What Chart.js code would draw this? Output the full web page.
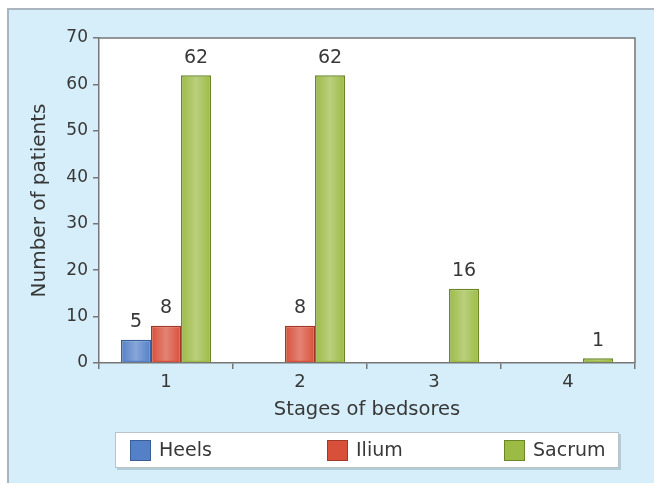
<!DOCTYPE html>
<html>
<head>
<meta charset="utf-8">
<script src="https://cdn.jsdelivr.net/npm/chart.js@4/dist/chart.umd.min.js"></script>
<style>
  html, body { margin: 0; padding: 0; background: #ffffff; }
  #wrap { width: 654px; height: 486px; }
</style>
</head>
<body>
<div id="wrap"><canvas id="c" width="654" height="486"></canvas></div>
<script>
// Bedsore counts by stage and site
const stages = ['1', '2', '3', '4'];
const heels = [5, null, null, null];
const ilium = [8, 8, null, null];
const sacrum = [62, 62, 16, 1];
const yTicks = [0, 10, 20, 30, 40, 50, 60, 70];

const FONT = 'DejaVu Sans';
const TEXT = '#383838';
const AXIS = '#767676';

const palette = {
  Heels:  { fill: '#5380c6', edge: '#3a5f98' },
  Ilium:  { fill: '#d84f3a', edge: '#a23826' },
  Sacrum: { fill: '#9cbb45', edge: '#6a8727' }
};

// Light blue panel behind everything, white plot area inside
const panelPlugin = {
  id: 'panel',
  beforeDraw(chart) {
    const ctx = chart.ctx;
    ctx.save();
    ctx.fillStyle = '#ffffff';
    ctx.fillRect(0, 0, chart.width, chart.height);
    ctx.fillStyle = '#d5eef9';
    ctx.fillRect(7, 8, chart.width - 7, 475);
    ctx.strokeStyle = '#a9b4bc';
    ctx.lineWidth = 2;
    ctx.beginPath();
    ctx.moveTo(8, 483);
    ctx.lineTo(8, 9);
    ctx.lineTo(chart.width, 9);
    ctx.stroke();
    const a = chart.chartArea;
    ctx.fillStyle = '#ffffff';
    ctx.fillRect(a.left, a.top, a.right - a.left, a.bottom - a.top);
    ctx.restore();
  },
  afterDraw(chart) {
    const ctx = chart.ctx;
    const a = chart.chartArea;
    ctx.save();
    ctx.strokeStyle = AXIS;
    ctx.lineWidth = 1.5;
    ctx.beginPath();
    ctx.moveTo(a.left, a.top);
    ctx.lineTo(a.right, a.top);
    ctx.lineTo(a.right, a.bottom);
    ctx.stroke();
    ctx.restore();
  }
};

// Soft highlight down the middle of each bar, plus value labels
const barDecor = {
  id: 'barDecor',
  afterDatasetsDraw(chart) {
    const ctx = chart.ctx;
    ctx.save();
    chart.data.datasets.forEach((ds, di) => {
      const meta = chart.getDatasetMeta(di);
      meta.data.forEach((bar, i) => {
        const v = ds.data[i];
        if (v === null || v === undefined) return;
        const p = bar.getProps(['x', 'y', 'base', 'width'], true);
        const l = p.x - p.width / 2, r = p.x + p.width / 2;
        const g = ctx.createLinearGradient(l, 0, r, 0);
        g.addColorStop(0, 'rgba(255,255,255,0)');
        g.addColorStop(0.5, 'rgba(255,255,255,0.3)');
        g.addColorStop(1, 'rgba(255,255,255,0)');
        ctx.fillStyle = g;
        ctx.fillRect(l + 1.5, p.y + 1.5, p.width - 3, p.base - p.y - 3);
        ctx.fillStyle = TEXT;
        ctx.font = '19px "' + FONT + '"';
        ctx.textAlign = 'center';
        ctx.textBaseline = 'bottom';
        ctx.fillText(String(v), p.x, p.y - 8);
      });
    });
    ctx.restore();
  }
};

// Boxed legend below the axis title
const boxLegend = {
  id: 'boxLegend',
  afterDraw(chart) {
    const ctx = chart.ctx;
    const box = { left: 115, top: 432, right: 619, bottom: 468 };
    ctx.save();
    ctx.fillStyle = 'rgba(120,140,150,0.35)';
    ctx.fillRect(box.left + 2, box.top + 2, box.right - box.left, box.bottom - box.top);
    ctx.fillStyle = '#ffffff';
    ctx.fillRect(box.left, box.top, box.right - box.left, box.bottom - box.top);
    ctx.strokeStyle = '#b9c2c8';
    ctx.lineWidth = 1;
    ctx.strokeRect(box.left + 0.5, box.top + 0.5, box.right - box.left - 1, box.bottom - box.top - 1);
    const starts = [130, 327, 504];
    const cy = (box.top + box.bottom) / 2;
    chart.data.datasets.forEach((ds, i) => {
      const x = starts[i];
      const c = palette[ds.label];
      ctx.fillStyle = c.fill;
      ctx.fillRect(x, cy - 10, 21, 21);
      ctx.strokeStyle = c.edge;
      ctx.lineWidth = 1;
      ctx.strokeRect(x + 0.5, cy - 9.5, 20, 20);
      ctx.fillStyle = TEXT;
      ctx.font = '19px "' + FONT + '"';
      ctx.textAlign = 'left';
      ctx.textBaseline = 'middle';
      ctx.fillText(ds.label, x + 29, cy + 1);
    });
    ctx.restore();
  }
};

const makeSet = (label, values) => ({
  label,
  data: values,
  backgroundColor: palette[label].fill,
  borderColor: palette[label].edge,
  borderWidth: 1.5,
  borderSkipped: 'bottom'
});

new Chart(document.getElementById('c'), {
  type: 'bar',
  data: {
    labels: stages,
    datasets: [
      makeSet('Heels', heels),
      makeSet('Ilium', ilium),
      makeSet('Sacrum', sacrum)
    ]
  },
  options: {
    responsive: false,
    animation: false,
    devicePixelRatio: 1,
    layout: { padding: { left: 0, top: 38, right: 19, bottom: 58 } },
    datasets: { bar: { categoryPercentage: 0.672, barPercentage: 1.0 } },
    plugins: {
      legend: { display: false },
      tooltip: { enabled: false }
    },
    scales: {
      x: {
        grid: { display: true, drawOnChartArea: false, tickLength: 6, color: AXIS, lineWidth: 1.5 },
        border: { display: true, color: AXIS, width: 1.5 },
        ticks: { color: TEXT, font: { family: FONT, size: 18 }, padding: 3 },
        title: {
          display: true, text: 'Stages of bedsores', color: TEXT,
          font: { family: FONT, size: 19.5 }, padding: { top: 0, bottom: 6 }
        },
        afterFit(scale) { scale.height = 65; }
      },
      y: {
        min: 0, max: 70,
        afterBuildTicks(scale) { scale.ticks = yTicks.map(v => ({ value: v })); },
        grid: { display: true, drawOnChartArea: false, tickLength: 6, color: AXIS, lineWidth: 1.5 },
        border: { display: true, color: AXIS, width: 1.5 },
        ticks: { color: TEXT, font: { family: FONT, size: 17 }, padding: 5 },
        title: {
          display: true, text: 'Number of patients', color: TEXT,
          font: { family: FONT, size: 20 }, padding: { top: 28, bottom: 0 }
        },
        afterFit(scale) { scale.width = 99; }
      }
    }
  },
  plugins: [panelPlugin, barDecor, boxLegend]
});
</script>
</body>
</html>
